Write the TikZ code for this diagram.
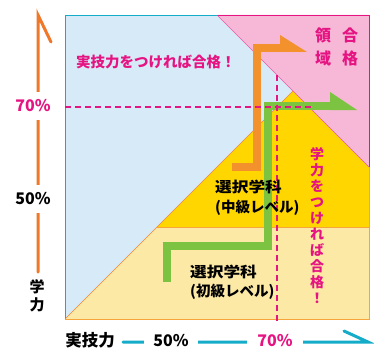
\documentclass[tikz,border=0pt]{standalone}
\usepackage{fontspec}
\newfontfamily\jp{Noto Sans CJK JP}
\definecolor{skyfill}{RGB}{214,234,247}
\definecolor{pinkfill}{RGB}{246,184,214}
\definecolor{goldfill}{RGB}{255,214,0}
\definecolor{palefill}{RGB}{252,233,165}
\definecolor{mag}{RGB}{230,20,130}
\definecolor{orng}{RGB}{243,145,45}
\definecolor{axor}{RGB}{240,120,40}
\definecolor{grn}{RGB}{125,195,66}
\definecolor{cyn}{RGB}{20,172,200}
\definecolor{edgeor}{RGB}{246,165,60}
\tikzset{
  lbl/.style={inner sep=0pt},
  band/.style={line width=8pt, line join=miter},
  guide/.style={draw=mag, dash pattern=on 6pt off 4pt, line width=1.3pt},
  axisline/.style={line width=3pt, line cap=round},
  gap/.style={fill=white, inner ysep=8pt, inner xsep=2pt},
}
\begin{document}
\begin{tikzpicture}[x=1pt,y=-1pt]
\useasboundingbox (0,0) rectangle (374,350);
\fill[white] (0,0) rectangle (374,350);
% regions
\fill[skyfill] (65,15) rectangle (369,319);
\fill[pinkfill] (217,15) -- (369,15) -- (369,167) -- cycle;
\fill[goldfill] (157,227) -- (293,91) -- (369,167) -- (369,227) -- cycle;
\fill[palefill] (65,319) -- (157,227) -- (369,227) -- (369,319) -- cycle;
% borders
\draw[cyn, line width=0.8pt] (65,319) -- (65,15) -- (217,15);
\draw[mag, line width=0.8pt] (217,15) -- (369,15) -- (369,167);
\draw[edgeor, line width=0.8pt] (369,167) -- (369,319) -- (65,319);
\draw[edgeor, line width=0.8pt] (157,227) -- (369,227);
\draw[mag!70, line width=0.5pt] (217,15) -- (369,167);
\draw[edgeor!80!red, line width=0.4pt] (65,319) -- (293,91);
% orange arrow
\coordinate (o1) at (232,167);
\coordinate (o2) at (257,167);
\coordinate (o3) at (257,48);
\coordinate (o4) at (283,48);
\draw[band, orng] (o1) -- (o2) -- (o3) -- (o4);
\fill[orng] (280,35) -- (307,52) -- (280,52) -- cycle;
% green arrow
\coordinate (g1) at (167,282);
\coordinate (g2) at (167,246);
\coordinate (g3) at (268,246);
\coordinate (g4) at (268,106);
\coordinate (g5) at (333,106);
\draw[band, grn] (g1) -- (g2) -- (g3) -- (g4) -- (g5);
\fill[grn] (330,92) -- (357,110) -- (330,110) -- cycle;
% guides
\coordinate (h1) at (65,107);
\coordinate (h2) at (312,107);
\coordinate (v1) at (277,75);
\coordinate (v2) at (277,321);
\draw[guide] (h1) -- (h2);
\draw[guide] (v1) -- (v2);
% texts in plot
\node[lbl, anchor=west, text=mag, font=\jp\bfseries\fontsize{14.5}{15}\selectfont] (slogan) at (76,62) {実技力をつければ合格！};
\node[lbl, text=mag, align=center, font=\jp\bfseries\fontsize{16}{23}\selectfont] (goukaku) at (350,47) {合\\格};
\node[lbl, text=mag, align=center, font=\jp\bfseries\fontsize{16}{23}\selectfont] (ryouiki) at (323,47) {領\\域};
\node[lbl, text=mag, align=center, font=\jp\bfseries\fontsize{14}{16}\selectfont] (vslogan) at (317,226) {学\\力\\を\\つ\\け\\れ\\ば\\合\\格\\！};
\node[lbl, anchor=west, align=left, font=\jp\bfseries\fontsize{14.5}{20}\selectfont] (chukyu) at (215,198) {\scalebox{1.15}[1]{選択学科}\\(中級レベル)};
\node[lbl, anchor=west, align=left, font=\jp\bfseries\fontsize{14.5}{19}\selectfont] (shokyu) at (190,282) {\scalebox{1.15}[1]{選択学科}\\(初級レベル)};
% left axis
\coordinate (ybot) at (38,272);
\coordinate (ytop) at (38,15);
\coordinate (ybarb) at (51,42);
\draw[axisline, axor, line join=miter] (ybot) -- (ytop) -- (ybarb);
\node[gap, text=mag, font=\jp\bfseries\fontsize{16}{16}\selectfont] (y70) at (33,106) {70\%};
\node[gap, font=\jp\bfseries\fontsize{16}{16}\selectfont] (y50) at (33,199) {50\%};
\node[lbl, align=center, font=\jp\bfseries\fontsize{15}{18}\selectfont] (gakuryoku) at (37,296) {学\\力};
% bottom axis
\coordinate (xl) at (123,342);
\coordinate (xr) at (368,342);
\coordinate (xbarb) at (344,331);
\draw[axisline, cyn] (xl) -- (xr) -- (xbarb);
\node[gap, inner xsep=9pt, font=\jp\bfseries\fontsize{16}{16}\selectfont] (x50) at (171,341) {50\%};
\node[gap, inner xsep=10pt, text=mag, font=\jp\bfseries\fontsize{16}{16}\selectfont] (x70) at (275,341) {70\%};
\node[lbl, font=\jp\bfseries\fontsize{16.5}{17}\selectfont] (jitsugi) at (90,340) {実技力};
\end{tikzpicture}
\end{document}
